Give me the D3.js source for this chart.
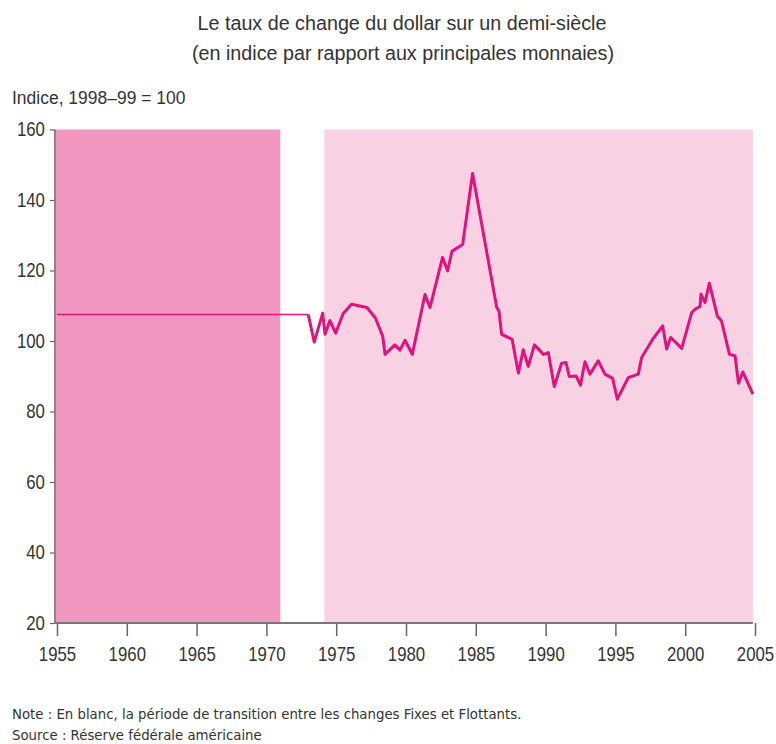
<!DOCTYPE html>
<html>
<head>
<meta charset="utf-8">
<script src="https://cdn.jsdelivr.net/npm/d3@7"></script>
<style>
body { margin: 0; background: #fff; }
svg text { fill: #333; }
.title, .tick-label, .unit { font-family: "Liberation Sans", Arial, sans-serif; }
.note { font-family: "DejaVu Sans", sans-serif; font-size: 13.3px; }
</style>
</head>
<body>
<div id="chart"></div>
<script>
var width = 776, height = 744;

// periods: fixed rates, then floating rates (white gap = transition)
var fixedPeriod = [1954.85, 1971];
var floatPeriod = [1974.15, 2004.85];

// fixed-rate level 1955-1973
var fixedYears = [1955, 1973];
var fixedValues = [107.5, 107.5];

// floating period, index 1998-99 = 100
var years = [1973.0, 1973.43, 1974.03, 1974.2, 1974.55, 1974.96, 1975.5, 1976.1, 1977.2, 1977.8,
	1978.33, 1978.5, 1979.2, 1979.57, 1979.93, 1980.45, 1981.36, 1981.72, 1982.62, 1982.98,
	1983.3, 1984.06, 1984.77, 1986.5, 1986.66, 1986.85, 1987.6, 1988.05, 1988.4, 1988.76,
	1989.2, 1989.84, 1990.2, 1990.62, 1991.15, 1991.46, 1991.7, 1992.18, 1992.5, 1992.82,
	1993.18, 1993.77, 1994.25, 1994.8, 1995.14, 1995.92, 1996.64, 1996.88, 1997.67, 1998.39,
	1998.67, 1998.96, 1999.75, 2000.47, 2000.7, 2001.06, 2001.13, 2001.42, 2001.73, 2002.3,
	2002.6, 2003.17, 2003.57, 2003.82, 2004.13, 2004.85];
var values = [107.5, 99.7, 107.9, 101.9, 105.8, 102.2, 107.8, 110.4, 109.5, 106.6,
	101.4, 96.2, 98.9, 97.4, 100.2, 96.2, 113.2, 109.5, 123.7, 119.9,
	125.5, 127.4, 147.5, 109.5, 108.5, 101.9, 100.5, 90.9, 97.5, 92.8,
	98.9, 96.2, 96.7, 87.1, 93.7, 93.9, 89.9, 90.1, 87.5, 94.1,
	90.6, 94.4, 90.6, 89.4, 83.5, 89.6, 90.6, 95.3, 100.5, 104.3,
	97.7, 101, 97.9, 108.1, 109, 109.8, 113.3, 110.9, 116.4, 107.1,
	105.7, 96.2, 95.8, 88, 91.2, 84.9];

var xTicks = [1955, 1960, 1965, 1970, 1975, 1980, 1985, 1990, 1995, 2000, 2005];
var yTicks = [20, 40, 60, 80, 100, 120, 140, 160];

var svg = d3.select("#chart").append("svg")
	.attr("width", width)
	.attr("height", height);

var x = d3.scaleLinear().domain([1955, 2005]).range([57, 755]);
var y = d3.scaleLinear().domain([20, 160]).range([623, 129.5]);

svg.append("rect")
	.attr("x", x(fixedPeriod[0])).attr("y", y(160))
	.attr("width", x(fixedPeriod[1]) - x(fixedPeriod[0]))
	.attr("height", y(20) - y(160))
	.attr("fill", "#f298c0");

svg.append("rect")
	.attr("x", x(floatPeriod[0])).attr("y", y(160))
	.attr("width", x(floatPeriod[1]) - x(floatPeriod[0]))
	.attr("height", y(20) - y(160))
	.attr("fill", "#f8d2e2");

// axes (labels squeezed horizontally to mimic the narrow typeface)
var xAxis = svg.append("g")
	.attr("transform", "translate(0," + y(20) + ")")
	.call(d3.axisBottom(x).tickValues(xTicks).tickFormat(d3.format("d")).tickSize(13).tickPadding(11));
xAxis.select(".domain").remove();
xAxis.selectAll("line").attr("stroke", "#666").attr("stroke-width", 1.5);
xAxis.selectAll("text").attr("class", "tick-label").style("font-size", "20px").attr("fill", "#333")
	.attr("transform", "scale(0.84,1)");

var yAxis = svg.append("g")
	.attr("transform", "translate(" + x(fixedPeriod[0]) + ",0)")
	.call(d3.axisLeft(y).tickValues(yTicks).tickSize(5).tickPadding(5));
yAxis.select(".domain").remove();
yAxis.selectAll("line").attr("stroke", "#666").attr("stroke-width", 1.2);
yAxis.selectAll("text").attr("class", "tick-label").style("font-size", "20px").attr("fill", "#333")
	.attr("x", -10 / 0.84)
	.attr("transform", "scale(0.84,1)");

svg.append("line")
	.attr("x1", x(fixedPeriod[0])).attr("x2", x(fixedPeriod[0]))
	.attr("y1", y(160)).attr("y2", y(20))
	.attr("stroke", "#7a6a70").attr("stroke-width", 1.5);
svg.append("line")
	.attr("x1", x(fixedPeriod[0])).attr("x2", x(floatPeriod[1]))
	.attr("y1", y(20)).attr("y2", y(20))
	.attr("stroke", "#777").attr("stroke-width", 2);

var line = d3.line()
	.x(function(d) { return x(d[0]); })
	.y(function(d) { return y(d[1]); });

svg.append("path")
	.datum(d3.zip(fixedYears, fixedValues))
	.attr("d", line)
	.attr("fill", "none")
	.attr("stroke", "#e0167f")
	.attr("stroke-width", 1.5);

svg.append("path")
	.datum(d3.zip(years, values))
	.attr("d", line)
	.attr("fill", "none")
	.attr("stroke", "#e0127e")
	.attr("stroke-width", 3)
	.attr("stroke-linejoin", "round");

// texts
svg.append("text").attr("class", "title")
	.attr("x", 402 / 0.94).attr("y", 30).attr("text-anchor", "middle")
	.attr("transform", "scale(0.94,1)")
	.style("font-size", "21px")
	.text("Le taux de change du dollar sur un demi-siècle");
svg.append("text").attr("class", "title")
	.attr("x", 403 / 0.94).attr("y", 60).attr("text-anchor", "middle")
	.attr("transform", "scale(0.94,1)")
	.style("font-size", "21px")
	.text("(en indice par rapport aux principales monnaies)");
svg.append("text").attr("class", "unit")
	.attr("x", 12 / 0.92).attr("y", 104)
	.attr("transform", "scale(0.92,1)")
	.style("font-size", "19px")
	.text("Indice, 1998–99 = 100");

svg.append("text").attr("class", "note")
	.attr("x", 12).attr("y", 719)
	.text("Note : En blanc, la période de transition entre les changes Fixes et Flottants.");
svg.append("text").attr("class", "note")
	.attr("x", 12).attr("y", 740)
	.text("Source : Réserve fédérale américaine");
</script>
</body>
</html>
